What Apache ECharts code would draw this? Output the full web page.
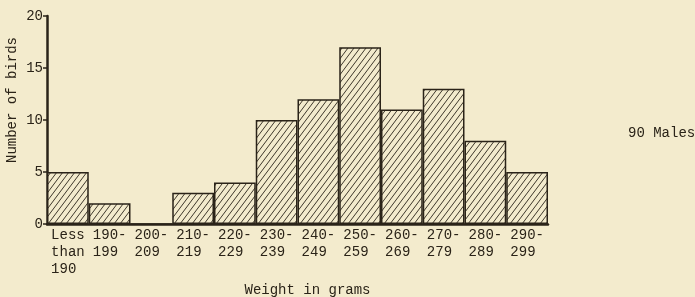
<!DOCTYPE html>
<html>
<head>
<meta charset="utf-8">
<script src="https://cdn.jsdelivr.net/npm/echarts@6/dist/echarts.min.js"></script>
<style>
  html, body { margin: 0; padding: 0; background: #f3ebcd; }
  #chart { width: 695px; height: 297px; }
</style>
</head>
<body>
<div id="chart"></div>
<script>
// data
var weightClasses = ["Less\nthan\n190 ", "190-\n199 ", "200-\n209 ", "210-\n219 ", "220-\n229 ",
  "230-\n239 ", "240-\n249 ", "250-\n259 ", "260-\n269 ", "270-\n279 ", "280-\n289 ", "290-\n299 "];
var birdCounts = [5, 2, 0, 3, 4, 10, 12, 17, 11, 13, 8, 5];
var yTicks = [0, 5, 10, 15, 20];

var ink = "#2a2318";
var font = "'Liberation Mono', 'DejaVu Sans Mono', monospace";

// hatch pattern "/" for the bars
function makeHatch() {
  var c = document.createElement("canvas");
  c.width = 6;
  c.height = 8;
  var ctx = c.getContext("2d");
  ctx.fillStyle = "#f3ebcd";
  ctx.fillRect(0, 0, 6, 8);
  ctx.strokeStyle = "#3e372b";
  ctx.lineWidth = 1;
  ctx.beginPath();
  ctx.moveTo(-3, 12); ctx.lineTo(9, -4);
  ctx.moveTo(-9, 12); ctx.lineTo(3, -4);
  ctx.moveTo(3, 12); ctx.lineTo(15, -4);
  ctx.stroke();
  return c;
}

var chart = echarts.init(document.getElementById("chart"));
chart.setOption({
  backgroundColor: "#f3ebcd",
  animation: false,
  textStyle: { fontFamily: font },
  grid: { left: 47, top: 16, width: 501, height: 208, outerBoundsMode: "none", containLabel: false },
  title: {
    text: "90 Males",
    left: 623,
    top: 121,
    textStyle: { fontFamily: font, fontSize: 14, fontWeight: "normal", color: ink }
  },
  xAxis: {
    type: "category",
    data: weightClasses,
    name: "Weight in grams",
    nameLocation: "middle",
    nameGap: 56,
    nameTextStyle: { fontSize: 14, color: ink, padding: [0, 0, 0, 20] },
    axisLine: { lineStyle: { color: ink, width: 2.5 } },
    axisTick: { show: false },
    axisLabel: { color: ink, fontSize: 14, lineHeight: 17, margin: 3, interval: 0 }
  },
  yAxis: {
    type: "value",
    min: yTicks[0],
    max: yTicks[yTicks.length - 1],
    interval: 5,
    name: "Number of birds",
    nameLocation: "middle",
    nameGap: 28,
    nameMoveOverlap: false,
    nameTextStyle: { fontSize: 14, color: ink, padding: [0, 0, 0, 40] },
    axisLine: { show: true, lineStyle: { color: ink, width: 2.5 } },
    axisTick: { show: true, length: 4, lineStyle: { color: ink, width: 1.5 } },
    splitLine: { show: false },
    axisLabel: { color: ink, fontSize: 14, margin: 4 }
  },
  series: [{
    type: "bar",
    data: birdCounts,
    barCategoryGap: "0%",
    itemStyle: {
      color: { image: makeHatch(), repeat: "repeat" },
      borderColor: ink,
      borderWidth: 1.5
    }
  }]
});
</script>
</body>
</html>
